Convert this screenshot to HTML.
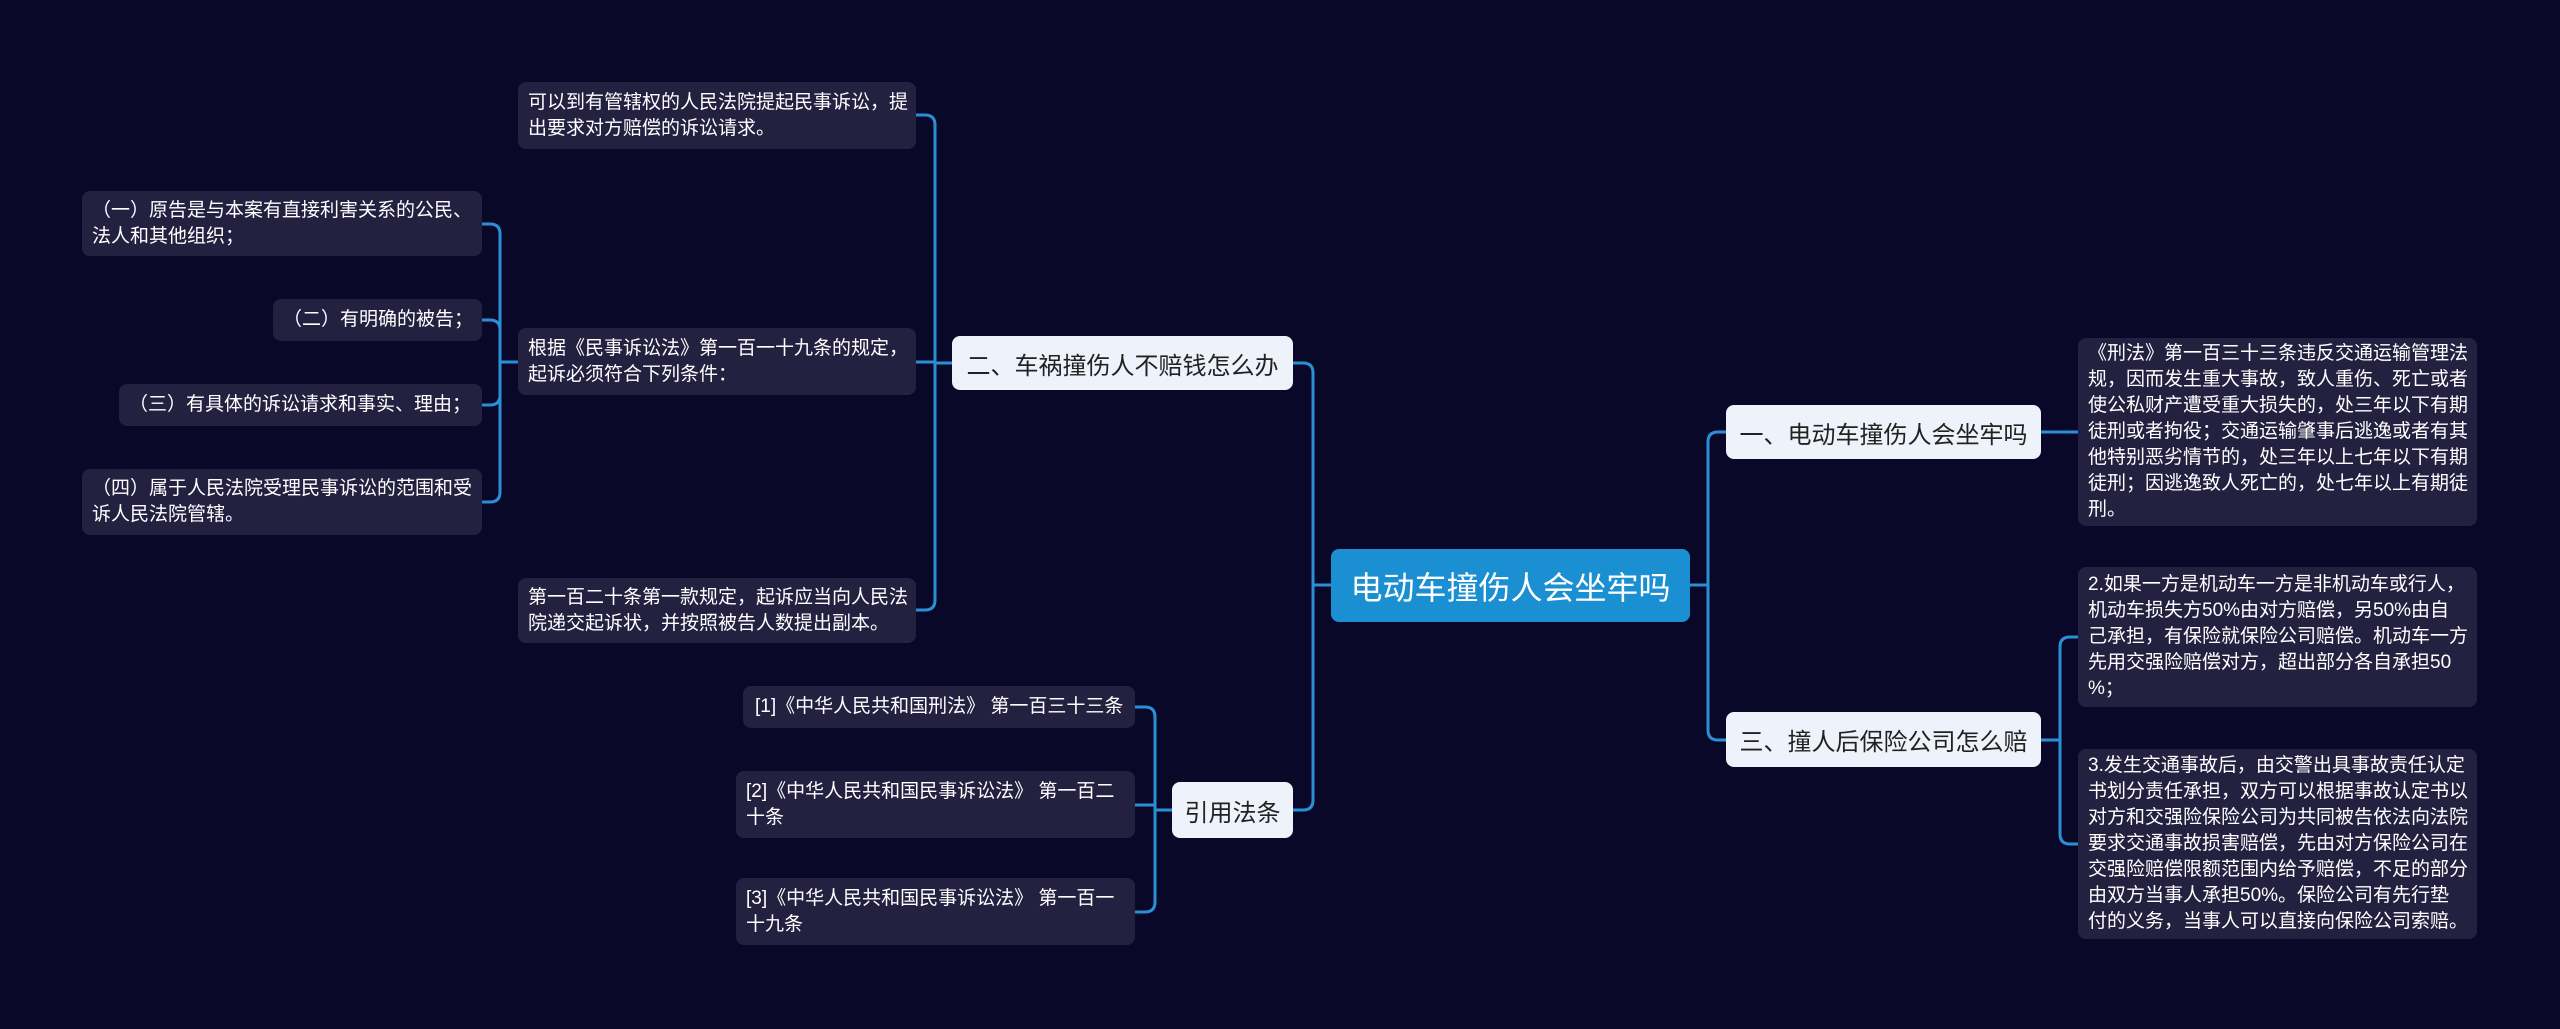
<!DOCTYPE html>
<html><head><meta charset="utf-8"><style>
html,body{margin:0;padding:0;}
body{width:2560px;height:1029px;background:#0a0829;position:relative;overflow:hidden;font-family:"Liberation Sans","Noto Sans CJK SC",sans-serif;}
.n{position:absolute;box-sizing:border-box;border-radius:8px;}
.leaf{background:#242140;color:#fff;font-size:19px;line-height:26px;padding:0 10px;white-space:nowrap;display:flex;align-items:center;}
.br{background:#eef3fb;color:#222;font-size:24px;display:flex;align-items:center;justify-content:center;white-space:nowrap;}
.c{background:#1a8fd2;color:#fff;font-size:32px;display:flex;align-items:center;justify-content:center;white-space:nowrap;}
svg{position:absolute;left:0;top:0;}
</style></head><body>
<svg width="2560" height="1029" fill="none" stroke="#2b8fd6" stroke-width="3">
<!-- center right -->
<path d="M1690 585 H1708"/>
<path d="M1726 432 H1718 Q1708 432 1708 442 V730 Q1708 740 1718 740 H1726"/>
<path d="M2041 432 H2078"/>
<path d="M2041 740 H2060"/>
<path d="M2078 637 H2070 Q2060 637 2060 647 V834 Q2060 844 2070 844 H2078"/>
<!-- center left -->
<path d="M1331 585 H1313"/>
<path d="M1293 363 H1303 Q1313 363 1313 373 V800 Q1313 810 1303 810 H1293"/>
<path d="M952 363 H935"/>
<path d="M916 115 H925 Q935 115 935 125 V600 Q935 610 925 610 H916"/>
<path d="M916 362 H935"/>
<path d="M518 362 H500"/>
<path d="M482 224 H490 Q500 224 500 234 V492 Q500 502 490 502 H482"/>
<path d="M482 320 H490 Q500 320 500 330"/>
<path d="M482 405 H490 Q500 405 500 395"/>
<path d="M1172 810 H1155"/>
<path d="M1135 707 H1145 Q1155 707 1155 717 V902 Q1155 912 1145 912 H1135"/>
<path d="M1135 805 H1155"/>
</svg>

<div class="n c" style="left:1331px;top:549px;width:359px;height:73px;">电动车撞伤人会坐牢吗</div>

<div class="n br" style="left:1726px;top:405px;width:315px;height:54px;">一、电动车撞伤人会坐牢吗</div>
<div class="n br" style="left:1726px;top:712px;width:315px;height:55px;">三、撞人后保险公司怎么赔</div>
<div class="n br" style="left:952px;top:336px;width:341px;height:54px;">二、车祸撞伤人不赔钱怎么办</div>
<div class="n br" style="left:1172px;top:782px;width:121px;height:56px;">引用法条</div>

<div class="n leaf" style="left:2078px;top:338px;width:399px;height:188px;">《刑法》第一百三十三条违反交通运输管理法<br>规，因而发生重大事故，致人重伤、死亡或者<br>使公私财产遭受重大损失的，处三年以下有期<br>徒刑或者拘役；交通运输肇事后逃逸或者有其<br>他特别恶劣情节的，处三年以上七年以下有期<br>徒刑；因逃逸致人死亡的，处七年以上有期徒<br>刑。</div>
<div class="n leaf" style="left:2078px;top:567px;width:399px;height:140px;">2.如果一方是机动车一方是非机动车或行人，<br>机动车损失方50%由对方赔偿，另50%由自<br>己承担，有保险就保险公司赔偿。机动车一方<br>先用交强险赔偿对方，超出部分各自承担50<br>%；</div>
<div class="n leaf" style="left:2078px;top:749px;width:399px;height:190px;">3.发生交通事故后，由交警出具事故责任认定<br>书划分责任承担，双方可以根据事故认定书以<br>对方和交强险保险公司为共同被告依法向法院<br>要求交通事故损害赔偿，先由对方保险公司在<br>交强险赔偿限额范围内给予赔偿，不足的部分<br>由双方当事人承担50%。保险公司有先行垫<br>付的义务，当事人可以直接向保险公司索赔。</div>

<div class="n leaf" style="left:518px;top:82px;width:398px;height:67px;">可以到有管辖权的人民法院提起民事诉讼，提<br>出要求对方赔偿的诉讼请求。</div>
<div class="n leaf" style="left:518px;top:328px;width:398px;height:67px;">根据《民事诉讼法》第一百一十九条的规定，<br>起诉必须符合下列条件：</div>
<div class="n leaf" style="left:518px;top:578px;width:398px;height:65px;">第一百二十条第一款规定，起诉应当向人民法<br>院递交起诉状，并按照被告人数提出副本。</div>

<div class="n leaf" style="left:82px;top:191px;width:400px;height:65px;">（一）原告是与本案有直接利害关系的公民、<br>法人和其他组织；</div>
<div class="n leaf" style="left:273px;top:299px;width:209px;height:42px;">（二）有明确的被告；</div>
<div class="n leaf" style="left:119px;top:384px;width:363px;height:42px;">（三）有具体的诉讼请求和事实、理由；</div>
<div class="n leaf" style="left:82px;top:469px;width:400px;height:66px;">（四）属于人民法院受理民事诉讼的范围和受<br>诉人民法院管辖。</div>

<div class="n leaf" style="left:743px;top:686px;width:392px;height:42px;padding-left:12px;">[1]《中华人民共和国刑法》 第一百三十三条</div>
<div class="n leaf" style="left:736px;top:771px;width:399px;height:67px;">[2]《中华人民共和国民事诉讼法》 第一百二<br>十条</div>
<div class="n leaf" style="left:736px;top:878px;width:399px;height:67px;">[3]《中华人民共和国民事诉讼法》 第一百一<br>十九条</div>
</body></html>
